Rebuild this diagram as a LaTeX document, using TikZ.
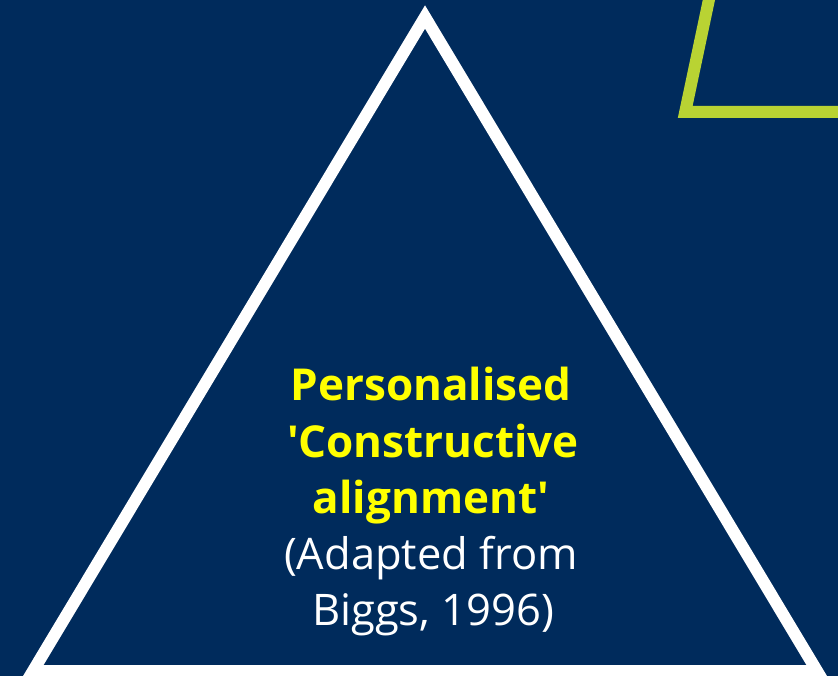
\documentclass[tikz,border=0pt]{standalone}
\usepackage{fontspec}
\setmainfont{Open Sans}
\begin{document}
\begin{tikzpicture}[x=1pt,y=-1pt,
  frame/.style={line width=12pt,line join=miter},
  title/.style={text=titleyellow,font=\bfseries\fontsize{44}{56}\selectfont},
  source/.style={text=white,font=\fontsize{43.5}{56}\selectfont}]
\definecolor{navy}{HTML}{002B5C}
\definecolor{lime}{HTML}{B9D333}
\definecolor{titleyellow}{HTML}{FFFF00}
\fill[navy] (0,0) rectangle (838,676);
\useasboundingbox (0,0) rectangle (838,676);
\begin{scope}
  \clip (0,0) rectangle (838,676);
  % outlined pyramid
  \coordinate (apex) at (425,17);
  \coordinate (bl) at (33,671);
  \coordinate (br) at (817,671);
  \draw[frame,white] (apex) -- (br) -- (bl) -- cycle;
  % lime corner frame, running off the edges
  \coordinate (lt) at (711,-10);
  \coordinate (lc) at (685.2,112);
  \coordinate (lr) at (860,112);
  \draw[frame,lime] (lt) -- (lc) -- (lr);
\end{scope}
\node[title,anchor=base] (t1) at (431,400) {Personalised};
\node[title,anchor=base] (t2) at (433,457) {\textquotesingle Constructive};
\node[title,anchor=base] (t3) at (431,513) {alignment\textquotesingle};
\node[source,anchor=base] (s1) at (431,569) {(Adapted from};
\node[source,anchor=base] (s2) at (433,625) {Biggs, 1996)};
\end{tikzpicture}
\end{document}
